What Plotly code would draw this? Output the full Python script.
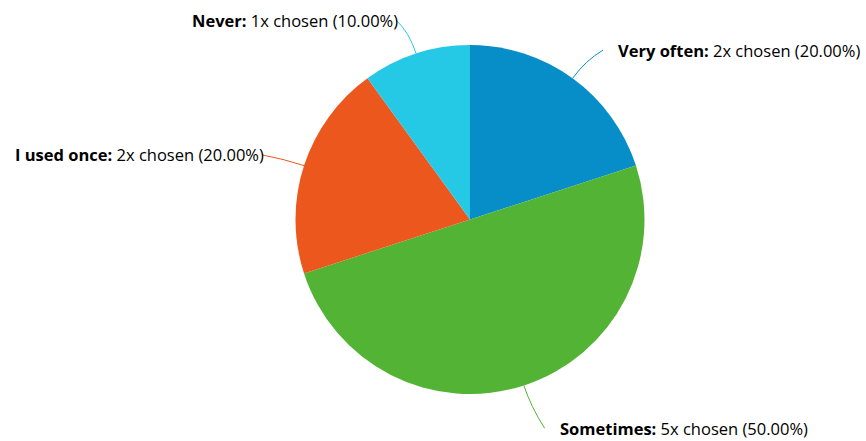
import math
import plotly.graph_objects as go

# Survey answers and how often each was chosen
labels = ["Very often", "Sometimes", "I used once", "Never"]
counts = [2, 5, 2, 1]
colors = ["#078ec9", "#52b335", "#ec571d", "#25c9e5"]

W, H = 866, 441
CX, CY, R = 470, 219.5, 174.5   # pie centre and radius in pixels
LABEL_DIST = 35                  # distance of labels beyond the rim

total = sum(counts)

fig = go.Figure()
fig.add_trace(go.Pie(
    labels=labels,
    values=counts,
    marker=dict(colors=colors, line=dict(width=0)),
    sort=False,
    direction="clockwise",
    rotation=0,
    textinfo="none",
    hoverinfo="label+value+percent",
    showlegend=False,
    domain=dict(x=[(CX - R) / W, (CX + R) / W],
                y=[1 - (CY + R) / H, 1 - (CY - R) / H]),
))

# Outside labels with curved connectors, placed from each slice's mid angle
shapes = []
annotations = []
cum = 0
for lab, n, col in zip(labels, counts, colors):
    theta = math.radians((cum + n / 2) / total * 360)
    cum += n
    s, c = math.sin(theta), math.cos(theta)
    x0, y0 = CX + R * s, CY - R * c
    # labels in the lower half sit a little further out
    D = R + LABEL_DIST + (10 if c < -0.5 else 0)
    ly = CY - D * c
    ax = CX + (R + LABEL_DIST) * s
    right = s >= 0
    ex = ax + 10 if right else ax - 9
    tx = ax + 23 if right else ax - 5
    qx, qy = CX + (R + 22) * s, CY - (R + 22) * c
    shapes.append(dict(
        type="path", xref="x", yref="y",
        path=f"M {x0:.1f},{y0:.1f} Q {qx:.1f},{qy:.1f} {ex:.1f},{ly:.1f}",
        line=dict(color=col, width=1),
    ))
    pct = n / total * 100
    annotations.append(dict(
        x=tx, y=ly, xref="x", yref="y",
        xanchor="left" if right else "right", yanchor="middle",
        text=f"<b>{lab}:</b> {n}x chosen ({pct:.2f}%)",
        showarrow=False,
        font=dict(family="Open Sans", size=16.5, color="#000000"),
    ))

fig.update_layout(
    width=W, height=H,
    margin=dict(l=0, r=0, t=0, b=0),
    paper_bgcolor="white", plot_bgcolor="rgba(0,0,0,0)",
    xaxis=dict(range=[0, W], visible=False, fixedrange=True),
    yaxis=dict(range=[H, 0], visible=False, fixedrange=True),
    shapes=shapes,
    annotations=annotations,
)

fig.write_html("out.html")
